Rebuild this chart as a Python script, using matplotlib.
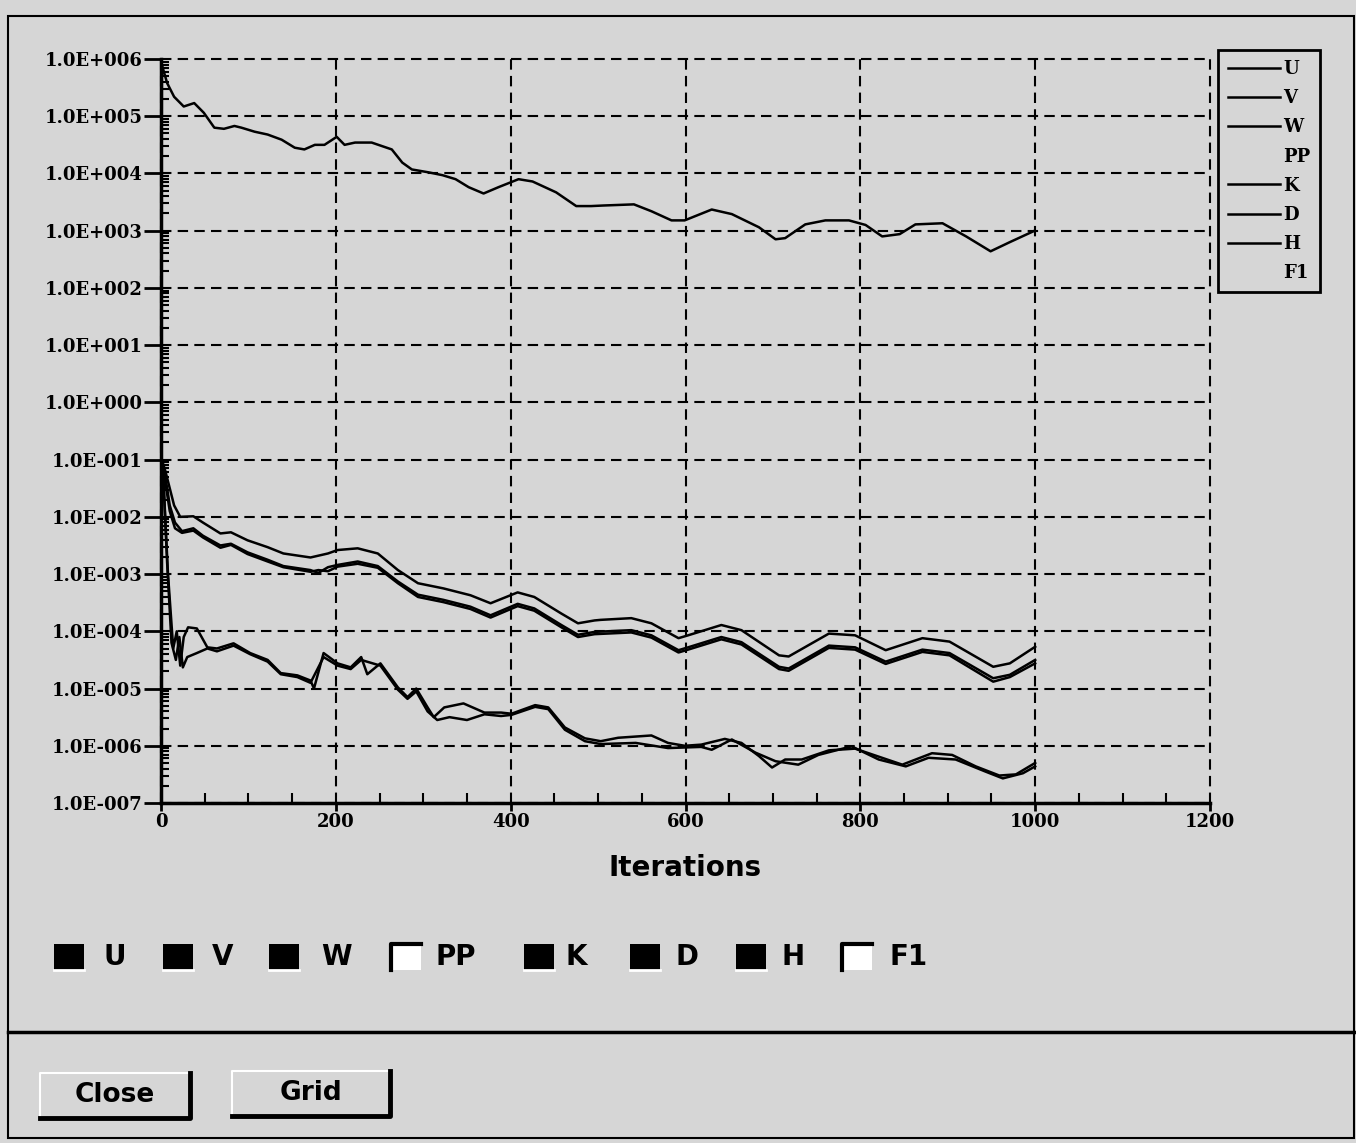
import numpy as np
import matplotlib
matplotlib.use("Agg")
import matplotlib.pyplot as plt
from matplotlib.lines import Line2D
from matplotlib.patches import Rectangle
from matplotlib.ticker import FuncFormatter, LogLocator, MultipleLocator, NullFormatter

# residual histories (iteration, log10 residual)
h_it = [0, 1, 7, 15, 26, 38, 49, 61, 72, 84, 92, 107, 122, 138, 153, 164, 176, 187, 201, 210,
        222, 241, 264, 276, 287, 306, 322, 337, 352, 369, 386, 409, 425, 452, 475, 492, 506, 541,
        561, 584, 599, 630, 653, 684, 703, 714, 737, 760, 787, 806, 825, 845, 863, 894, 921, 949,
        971, 998]
h_log = [-1.0, 5.9, 5.58, 5.34, 5.17, 5.23, 5.06, 4.80, 4.78, 4.83, 4.80, 4.73, 4.68, 4.59, 4.45,
         4.42, 4.50, 4.50, 4.64, 4.50, 4.54, 4.54, 4.42, 4.19, 4.07, 4.02, 3.97, 3.90, 3.76, 3.65,
         3.76, 3.90, 3.86, 3.67, 3.43, 3.43, 3.44, 3.46, 3.34, 3.18, 3.18, 3.37, 3.29, 3.06, 2.85,
         2.87, 3.11, 3.18, 3.18, 3.10, 2.90, 2.94, 3.11, 3.13, 2.90, 2.64, 2.80, 2.99]

v_it = [2, 5, 10, 15, 22, 37, 48, 68, 80, 99, 122, 140, 171, 191, 202, 225, 248, 271, 294, 323,
        354, 377, 408, 427, 458, 477, 496, 503, 538, 561, 592, 603, 641, 664, 707, 718, 764, 794,
        829, 871, 902, 952, 971, 1000]
v_log = [-1.05, -1.2, -1.5, -1.8, -2.0, -1.99, -2.1, -2.29, -2.27, -2.41, -2.53, -2.64, -2.71,
         -2.64, -2.58, -2.55, -2.64, -2.93, -3.16, -3.25, -3.37, -3.51, -3.32, -3.40, -3.69, -3.86,
         -3.81, -3.80, -3.77, -3.86, -4.12, -4.07, -3.89, -3.98, -4.42, -4.44, -4.04, -4.07, -4.33,
         -4.12, -4.18, -4.62, -4.56, -4.27]

uw_it = [2, 6, 10, 16, 24, 37, 48, 68, 80, 99, 122, 140, 171, 180, 191, 202, 225, 248, 271, 294,
         323, 354, 377, 408, 427, 458, 477, 496, 538, 561, 592, 603, 641, 664, 707, 718, 764, 794,
         829, 871, 902, 952, 971, 1000]
u_log = [-1.1, -1.4, -1.8, -2.1, -2.25, -2.2, -2.33, -2.5, -2.47, -2.62, -2.75, -2.86, -2.93,
         -2.98, -2.88, -2.84, -2.78, -2.86, -3.13, -3.36, -3.45, -3.57, -3.72, -3.52, -3.60, -3.89,
         -4.06, -4.01, -3.98, -4.07, -4.33, -4.28, -4.10, -4.19, -4.62, -4.65, -4.25, -4.28, -4.53,
         -4.32, -4.38, -4.82, -4.76, -4.50]
w_log = [-1.1, -1.5, -1.9, -2.2, -2.28, -2.24, -2.36, -2.54, -2.49, -2.65, -2.78, -2.88, -2.96,
         -2.93, -2.95, -2.87, -2.82, -2.89, -3.16, -3.40, -3.49, -3.61, -3.76, -3.56, -3.64, -3.93,
         -4.10, -4.05, -4.02, -4.11, -4.37, -4.32, -4.14, -4.23, -4.66, -4.69, -4.29, -4.32, -4.57,
         -4.36, -4.42, -4.88, -4.80, -4.56]

k_it = [2, 8, 14, 18, 22, 26, 31, 41, 53, 64, 83, 102, 122, 137, 156, 171, 175, 186, 202, 217,
        229, 236, 251, 271, 282, 292, 305, 312, 324, 346, 370, 389, 401, 428, 443, 462, 485, 503,
        523, 561, 580, 599, 618, 645, 664, 684, 699, 714, 733, 764, 794, 821, 848, 882, 905, 932,
        959, 978, 1000]
k_log = [-1.1, -3.0, -4.3, -4.0, -4.6, -4.1, -3.93, -3.95, -4.28, -4.30, -4.21, -4.38, -4.50,
         -4.73, -4.77, -4.86, -5.0, -4.38, -4.56, -4.63, -4.45, -4.75, -4.56, -4.98, -5.15, -5.0,
         -5.33, -5.50, -5.33, -5.26, -5.42, -5.42, -5.44, -5.29, -5.33, -5.68, -5.87, -5.92, -5.86,
         -5.82, -5.95, -6.0, -5.98, -5.88, -5.95, -6.18, -6.38, -6.24, -6.24, -6.08, -6.05, -6.19,
         -6.33, -6.13, -6.16, -6.36, -6.52, -6.50, -6.30]

d_it = [2, 7, 12, 17, 21, 25, 30, 41, 53, 64, 83, 102, 122, 137, 156, 171, 186, 202, 217, 229,
        251, 271, 282, 292, 305, 316, 330, 350, 370, 389, 401, 428, 443, 462, 485, 503, 543, 580,
        618, 630, 653, 680, 703, 729, 752, 790, 821, 852, 878, 909, 943, 963, 986, 1000]
d_log = [-1.1, -2.8, -4.2, -4.5, -4.1, -4.63, -4.45, -4.38, -4.30, -4.35, -4.25, -4.40, -4.53,
         -4.75, -4.80, -4.90, -4.45, -4.60, -4.66, -4.50, -4.60, -5.02, -5.18, -5.05, -5.40, -5.55,
         -5.50, -5.55, -5.45, -5.48, -5.46, -5.32, -5.36, -5.72, -5.92, -5.97, -5.95, -6.04, -6.02,
         -6.07, -5.89, -6.12, -6.27, -6.33, -6.16, -6.01, -6.24, -6.36, -6.21, -6.24, -6.45, -6.57,
         -6.48, -6.36]

legend_names = ["U", "V", "W", "PP", "K", "D", "H", "F1"]
checked = [True, True, True, False, True, True, True, False]
x_ticks = [0, 200, 400, 600, 800, 1000, 1200]

W_PX, H_PX = 1356, 1143
BG = "#d6d6d6"


def fx(x):
    return x / W_PX


def fy(y):
    return 1 - y / H_PX


def main() -> None:
    fig = plt.figure(figsize=(W_PX / 100, H_PX / 100), dpi=100, facecolor=BG)

    # window frame and separator
    fig.add_artist(Rectangle((fx(8), fy(1138)), fx(1354) - fx(8), fy(16) - fy(1138),
                             fill=False, ec="black", lw=1.5, transform=fig.transFigure))
    fig.add_artist(Line2D([fx(8), fx(1354)], [fy(1032), fy(1032)], color="black", lw=2.5,
                          transform=fig.transFigure))

    ax = fig.add_axes([fx(161), fy(803), fx(1210) - fx(161), fy(59) - fy(803)])
    ax.set_facecolor("none")
    ax.set_yscale("log")
    ax.set_xlim(0, 1200)
    ax.set_ylim(1e-7, 1e6)

    series = {
        "U": (uw_it, u_log),
        "V": (v_it, v_log),
        "W": (uw_it, w_log),
        "K": (k_it, k_log),
        "D": (d_it, d_log),
        "H": (h_it, h_log),
    }
    handles = {}
    for name, (its, logs) in series.items():
        (ln,) = ax.plot(its, np.power(10.0, logs), color="black", lw=1.8, zorder=3)
        handles[name] = ln

    ax.set_xticks(x_ticks)
    ax.xaxis.set_minor_locator(MultipleLocator(50))
    ax.yaxis.set_major_locator(LogLocator(base=10, numticks=20))
    ax.yaxis.set_minor_locator(LogLocator(base=10, subs=np.arange(2, 10), numticks=20))
    ax.yaxis.set_minor_formatter(NullFormatter())
    ax.yaxis.set_major_formatter(FuncFormatter(
        lambda v, _: "1.0E{:+04d}".format(int(round(np.log10(v))))))

    for lab in ax.get_xticklabels() + ax.get_yticklabels():
        lab.set_fontfamily("DejaVu Serif")
        lab.set_fontweight("bold")
        lab.set_fontsize(13)

    ax.tick_params(axis="y", which="major", direction="out", length=12, width=2, pad=1)
    ax.tick_params(axis="y", which="minor", direction="in", length=6, width=1.5)
    ax.tick_params(axis="x", which="major", direction="out", length=6, width=2, pad=1)
    ax.tick_params(axis="x", which="minor", direction="in", length=7, width=1.5)

    for side in ("top", "right"):
        ax.spines[side].set_visible(False)
    for side in ("left", "bottom"):
        ax.spines[side].set_linewidth(2.5)

    ax.grid(True, which="major", color="black", linestyle=(0, (5, 3)), linewidth=1.5)
    for gl in ax.get_xgridlines() + ax.get_ygridlines():
        gl.set_clip_on(False)

    fig.text(fx(685), fy(868), "Iterations", ha="center", va="center",
             fontsize=20, fontweight="bold", family="DejaVu Sans")

    # legend box at the top right
    leg_handles = [handles.get(n, Line2D([], [], color="none")) for n in legend_names]
    leg = ax.legend(leg_handles, legend_names, loc="upper left",
                    bbox_to_anchor=(fx(1218), fy(50)), bbox_transform=fig.transFigure,
                    prop={"family": "DejaVu Serif", "weight": "bold", "size": 13},
                    handlelength=2.9, handletextpad=0.15, labelspacing=0.62,
                    borderpad=0.55, borderaxespad=0, fancybox=False, framealpha=1,
                    facecolor=BG, edgecolor="black")
    leg.get_frame().set_linewidth(2)
    for ln in leg.get_lines():
        ln.set_linewidth(1.8)

    # check boxes under the plot
    box_x = [54, 163, 269, 391, 524, 630, 736, 842]
    label_x = [103, 212, 321, 436, 566, 675, 781, 890]
    for bx, lx, name, on in zip(box_x, label_x, legend_names, checked):
        x0, y0, bw, bh = fx(bx), fy(970), fx(30), 26 / H_PX
        if on:
            fig.add_artist(Rectangle((x0, y0), bw, bh, fc="black", ec="none",
                                     transform=fig.transFigure))
            fig.add_artist(Line2D([x0, x0 + bw], [y0, y0], color="white", lw=2,
                                  transform=fig.transFigure))
        else:
            fig.add_artist(Rectangle((x0, y0), bw, bh, fc="white", ec="none",
                                     transform=fig.transFigure))
            fig.add_artist(Line2D([x0, x0, x0 + bw], [y0, y0 + bh, y0 + bh], color="black",
                                  lw=3, transform=fig.transFigure))
        fig.text(fx(lx), fy(957), name, ha="left", va="center", fontsize=20,
                 fontweight="bold", family="DejaVu Sans")

    # buttons
    for (x0, y0, x1, y1), label in [((40, 1073, 190, 1118), "Close"),
                                    ((232, 1071, 390, 1116), "Grid")]:
        fig.add_artist(Rectangle((fx(x0), fy(y1)), fx(x1) - fx(x0), fy(y0) - fy(y1),
                                 fc=BG, ec="none", transform=fig.transFigure))
        fig.add_artist(Line2D([fx(x0), fx(x0), fx(x1)], [fy(y1), fy(y0), fy(y0)],
                              color="white", lw=1.5, transform=fig.transFigure))
        fig.add_artist(Line2D([fx(x0), fx(x1), fx(x1)], [fy(y1), fy(y1), fy(y0)],
                              color="black", lw=3.5, transform=fig.transFigure))
        fig.text((fx(x0) + fx(x1)) / 2, (fy(y0) + fy(y1)) / 2, label, ha="center",
                 va="center", fontsize=19, fontweight="bold", family="DejaVu Sans")

    fig.savefig("out.png", dpi=100, facecolor=BG)
    plt.close(fig)


if __name__ == "__main__":
    main()
